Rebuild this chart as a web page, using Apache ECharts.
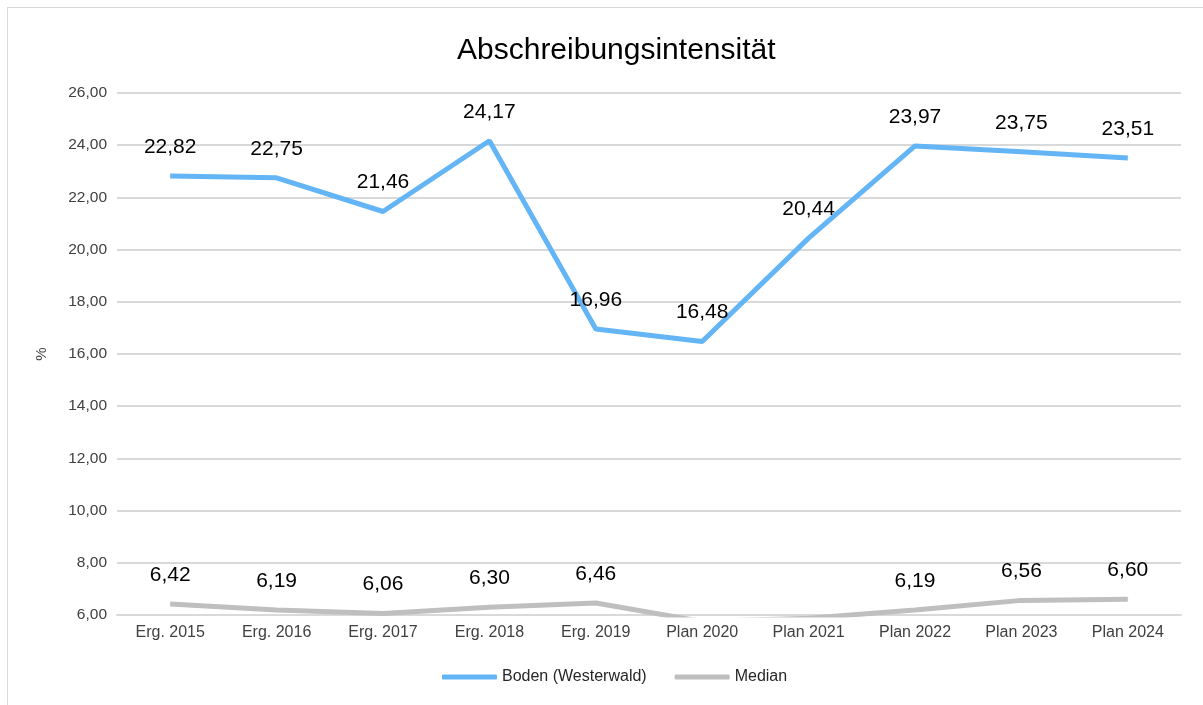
<!DOCTYPE html>
<html>
<head>
<meta charset="utf-8">
<script src="https://cdn.jsdelivr.net/npm/echarts@6/dist/echarts.min.js"></script>
<style>
  html, body { margin: 0; padding: 0; background: #fff; overflow: hidden; }
  #frame { position: absolute; left: 7px; top: 7px; width: 1210px; height: 720px; border: 1px solid #d9d9d9; }
  #main { position: absolute; left: 0; top: 0; width: 1203px; height: 705px; }
</style>
</head>
<body>
<div id="frame"></div>
<div id="main"></div>
<script>
var categories = ['Erg. 2015', 'Erg. 2016', 'Erg. 2017', 'Erg. 2018', 'Erg. 2019',
                  'Plan 2020', 'Plan 2021', 'Plan 2022', 'Plan 2023', 'Plan 2024'];
var bodenValues = [22.82, 22.75, 21.46, 24.17, 16.96, 16.48, 20.44, 23.97, 23.75, 23.51];
// Plan 2020/2021 liegen unter der Achse (abgeschnitten), Werte geschätzt
var medianValues = [6.42, 6.19, 6.06, 6.30, 6.46, 5.75, 5.88, 6.19, 6.56, 6.60];

function fmt(v) {
    return Number(v).toFixed(2).replace('.', ',');
}

var chart = echarts.init(document.getElementById('main'));

var medianData = medianValues.map(function (v) {
    if (v < 6) {
        return { value: v, label: { show: false } };
    }
    return v;
});

var labelStyle = {
    show: true,
    position: 'top',
    distance: 18,
    fontSize: 21,
    color: '#000',
    fontFamily: 'Liberation Sans, Arial, sans-serif',
    formatter: function (p) { return fmt(p.value); }
};

chart.setOption({
    animation: false,
    textStyle: { fontFamily: 'Liberation Sans, Arial, sans-serif' },
    title: {
        text: 'Abschreibungsintensität',
        left: 452,
        top: 31,
        textStyle: { fontSize: 30, fontWeight: 'normal', color: '#000' }
    },
    legend: {
        top: 664,
        left: 437,
        icon: 'roundRect',
        itemWidth: 55,
        itemHeight: 5,
        itemGap: 28,
        textStyle: { fontSize: 16, color: '#262626' },
        data: ['Boden (Westerwald)', 'Median']
    },
    grid: {
        left: 117,
        right: 22,
        top: 93,
        bottom: 90
    },
    xAxis: {
        type: 'category',
        data: categories,
        boundaryGap: true,
        axisTick: { show: false },
        axisLine: { lineStyle: { color: '#d9d9d9', width: 2 } },
        axisLabel: { fontSize: 16, color: '#404040', margin: 10 }
    },
    yAxis: {
        type: 'value',
        min: 6,
        max: 26,
        interval: 2,
        name: '%',
        nameLocation: 'middle',
        nameGap: 68,
        nameRotate: 90,
        nameTextStyle: { fontSize: 15, color: '#404040' },
        axisLine: { show: false },
        axisTick: { show: false },
        axisLabel: { fontSize: 15.5, color: '#404040', margin: 10, formatter: fmt },
        splitLine: { lineStyle: { color: '#d9d9d9', width: 2 } }
    },
    series: [
        {
            name: 'Boden (Westerwald)',
            type: 'line',
            data: bodenValues,
            symbol: 'circle',
            symbolSize: 1,
            itemStyle: { color: '#63b5f5' },
            lineStyle: { color: '#63b5f5', width: 5 },
            label: labelStyle
        },
        {
            name: 'Median',
            type: 'line',
            data: medianData,
            symbol: 'circle',
            symbolSize: 1,
            clip: true,
            itemStyle: { color: '#bfbfbf' },
            lineStyle: { color: '#bfbfbf', width: 5 },
            label: labelStyle
        }
    ]
});
</script>
</body>
</html>
